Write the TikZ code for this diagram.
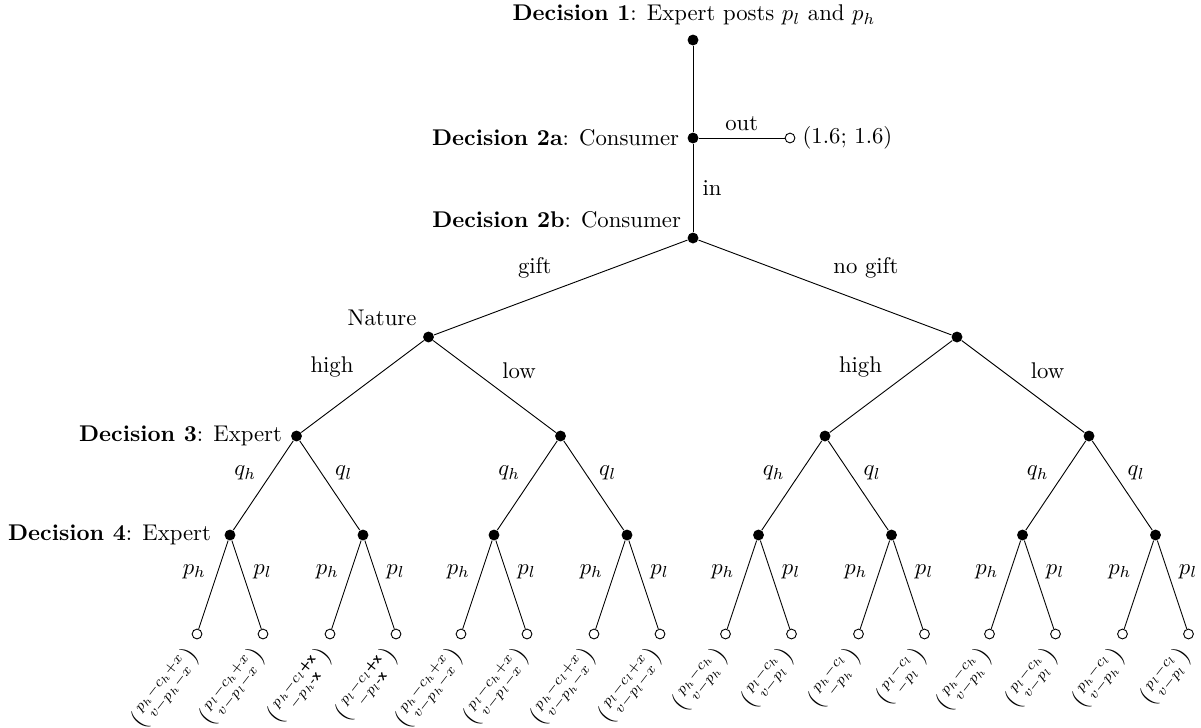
\documentclass[tikz,border=0pt]{standalone}
\usepackage{amsmath}
\usetikzlibrary{calc}
\newcommand{\bsx}[1]{\text{\sffamily\bfseries #1}}
\begin{document}
\begin{tikzpicture}[x=0.44pt,y=-0.44pt,
  dot/.style={circle,fill=black,inner sep=0pt,minimum size=4.8pt},
  term/.style={circle,draw=black,fill=white,inner sep=0pt,minimum size=4.3pt},
  elab/.style={inner sep=0pt},
  pay/.style={rotate=52,scale=0.9,anchor=east,inner sep=1pt},
  line width=0.4pt]
\useasboundingbox (0,0) rectangle (1201,727);
% decision nodes
\node[dot] (r) at (693,40) {};
\node[dot] (a) at (693,138) {};
\node[term] (o) at (790,138) {};
\node[dot] (b) at (693,238) {};
\node[dot] (g) at (428.5,337) {};
\node[dot] (n) at (957,337) {};
\node[dot] (g1) at (296.5,436) {};
\node[dot] (g2) at (560.5,436) {};
\node[dot] (n1) at (825,436) {};
\node[dot] (n2) at (1089,436) {};
\node[dot] (g1a) at (230,535) {};
\node[dot] (g1b) at (363,535) {};
\node[dot] (g2a) at (494,535) {};
\node[dot] (g2b) at (627,535) {};
\node[dot] (n1a) at (758.5,535) {};
\node[dot] (n1b) at (891.5,535) {};
\node[dot] (n2a) at (1022.5,535) {};
\node[dot] (n2b) at (1155.5,535) {};
% texts
\node[anchor=base] (h1) at (694,20.7) {\textbf{Decision 1}: Expert posts $p_l$ and $p_h$};
\node[anchor=east] (h2a) at (a.west) {\textbf{Decision 2a}: Consumer};
\node[anchor=base east] (h2b) at (689,227) {\textbf{Decision 2b}: Consumer};
\node (hn) at (382,318) {Nature};
\node[anchor=east] (h3) at (290,436) {\textbf{Decision 3}: Expert};
\node[anchor=east] (h4) at (219,535) {\textbf{Decision 4}: Expert};
\node[anchor=west,inner sep=3pt] (oo) at (o.east) {(1.6; 1.6)};
% upper edges
\draw (r) -- (a);
\draw (a) -- (o) node[midway,above,inner sep=3pt] {out};
\draw (a) -- (b) node[midway,right,inner sep=4pt] {in};
\draw (b) -- (g) node[elab,pos=.5,shift={(-26,-19.5)}] {gift};
\draw (b) -- (n) node[elab,pos=.5,shift={(41,-19.5)}] {no gift};
\foreach \u/\l/\rr in {g/g1/g2, n/n1/n2} {
  \draw (\u) -- (\l) node[elab,pos=.5,shift={(-30.5,-19.5)}] {high};
  \draw (\u) -- (\rr) node[elab,pos=.5,shift={(24.5,-15.5)}] {low};
}
\foreach \u/\l/\rr in {g1/g1a/g1b, g2/g2a/g2b, n1/n1a/n1b, n2/n2a/n2b} {
  \draw (\u) -- (\l) node[elab,pos=.5,shift={(-18,-12.5)}] {$q_h$};
  \draw (\u) -- (\rr) node[elab,pos=.5,shift={(14,-12.5)}] {$q_l$};
}
\foreach \u [count=\k] in {g1a,g1b,g2a,g2b,n1a,n1b,n2a,n2b} {
  \node[term] (tl\k) at ($(\u)+(-33,99)$) {};
  \node[term] (tr\k) at ($(\u)+(33,99)$) {};
  \draw (\u) -- (tl\k) node[elab,pos=.5,shift={(-19,-13)}] {$p_h$};
  \draw (\u) -- (tr\k) node[elab,pos=.5,shift={(16,-13)}] {$p_l$};
}
% payoffs
\foreach \t/\tx [count=\k] in {
  tl1/{p_h-c_h+x\\v-p_h-x},
  tr1/{p_l-c_h+x\\v-p_l-x},
  tl2/{p_h-c_l\bsx{+x}\\-p_h\bsx{-x}},
  tr2/{p_l-c_l\bsx{+x}\\-p_l\bsx{-x}},
  tl3/{p_h-c_h+x\\v-p_h-x},
  tr3/{p_l-c_h+x\\v-p_l-x},
  tl4/{p_h-c_l+x\\v-p_h-x},
  tr4/{p_l-c_l+x\\v-p_l-x},
  tl5/{p_h-c_h\\v-p_h},
  tr5/{p_l-c_h\\v-p_l},
  tl6/{p_h-c_l\\-p_h},
  tr6/{p_l-c_l\\-p_l},
  tl7/{p_h-c_h\\v-p_h},
  tr7/{p_l-c_h\\v-p_l},
  tl8/{p_h-c_l\\v-p_h},
  tr8/{p_l-c_l\\v-p_l}} {
  \node[pay] (pay\k) at ($(\t)+(-1,15)$) {$\left(\begin{smallmatrix}\tx\end{smallmatrix}\right)$};
}
\end{tikzpicture}
\end{document}
